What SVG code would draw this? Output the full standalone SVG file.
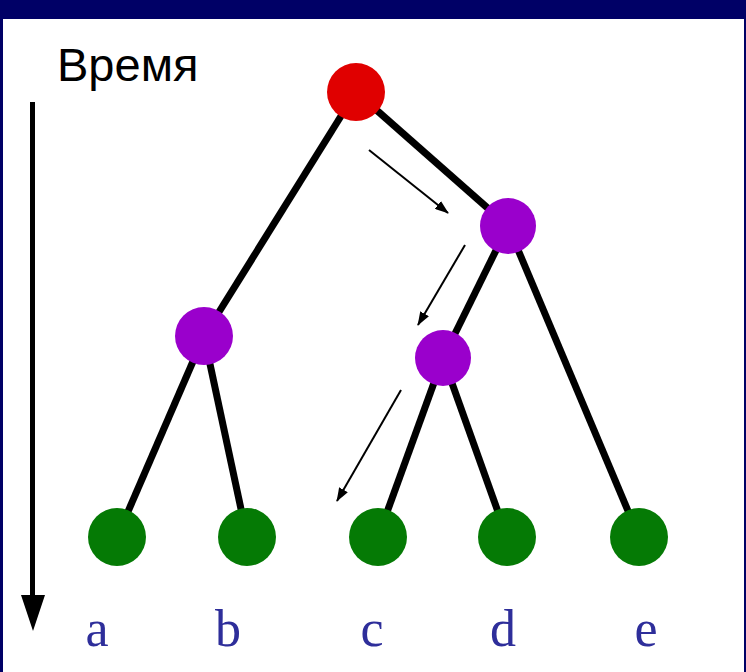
<svg xmlns="http://www.w3.org/2000/svg" width="746" height="672" viewBox="0 0 746 672">
<defs>
<style>
.frame{fill:#000066}
.edge{stroke:#000;stroke-width:7;stroke-linecap:butt}
.thin{stroke:#000;stroke-width:2;marker-end:url(#sa)}
.red{fill:#e00000}
.purple{fill:#9a00cc}
.green{fill:#057a05}
.lbl{font-family:"Liberation Serif","Times New Roman",serif;font-size:52px;fill:#2e2e9a;text-anchor:middle}
.time{font-family:"Liberation Sans",Arial,sans-serif;font-size:47px;fill:#000}
</style>
<marker id="sa" viewBox="0 0 14 10" refX="13" refY="5" markerWidth="7" markerHeight="5" orient="auto" markerUnits="strokeWidth">
<path d="M0,0 L14,5 L0,10 Z" fill="#000"/>
</marker>
</defs>
<rect width="746" height="672" fill="#fff"/>
<rect class="frame" x="0" y="0" width="746" height="19"/>
<rect class="frame" x="0" y="0" width="3" height="672"/>
<rect class="frame" x="744" y="0" width="2" height="672"/>
<g id="time-axis">
<text class="time" x="57" y="81">Время</text>
<rect x="30" y="102" width="5" height="494" fill="#000"/>
<path d="M21,595 L45,595 L33,631 Z" fill="#000"/>
</g>
<g id="connectors">
<line class="edge" x1="356" y1="92" x2="204" y2="336"/>
<line class="edge" x1="356" y1="92" x2="508" y2="226"/>
<line class="edge" x1="204" y1="336" x2="117" y2="537"/>
<line class="edge" x1="204" y1="336" x2="247" y2="537"/>
<line class="edge" x1="508" y1="226" x2="443" y2="358"/>
<line class="edge" x1="508" y1="226" x2="639" y2="537"/>
<line class="edge" x1="443" y1="358" x2="378" y2="537"/>
<line class="edge" x1="443" y1="358" x2="507" y2="537"/>
<line class="thin" x1="369" y1="150" x2="448" y2="213"/>
<line class="thin" x1="465" y1="245" x2="418" y2="325"/>
<line class="thin" x1="401" y1="390" x2="337" y2="501"/>
</g>
<g id="root"><circle class="red" cx="356" cy="92" r="29"/></g>
<g id="n-right"><circle class="purple" cx="508" cy="226" r="28"/></g>
<g id="n-left"><circle class="purple" cx="204" cy="336" r="29"/></g>
<g id="n-mid"><circle class="purple" cx="443" cy="358" r="28"/></g>
<g id="leaf-a"><circle class="green" cx="117" cy="537" r="29"/><text class="lbl" x="97" y="646">a</text></g>
<g id="leaf-b"><circle class="green" cx="247" cy="537" r="29"/><text class="lbl" x="228" y="646">b</text></g>
<g id="leaf-c"><circle class="green" cx="378" cy="537" r="29"/><text class="lbl" x="372" y="646">c</text></g>
<g id="leaf-d"><circle class="green" cx="507" cy="537" r="29"/><text class="lbl" x="503" y="646">d</text></g>
<g id="leaf-e"><circle class="green" cx="639" cy="537" r="29"/><text class="lbl" x="646" y="646">e</text></g>
</svg>
